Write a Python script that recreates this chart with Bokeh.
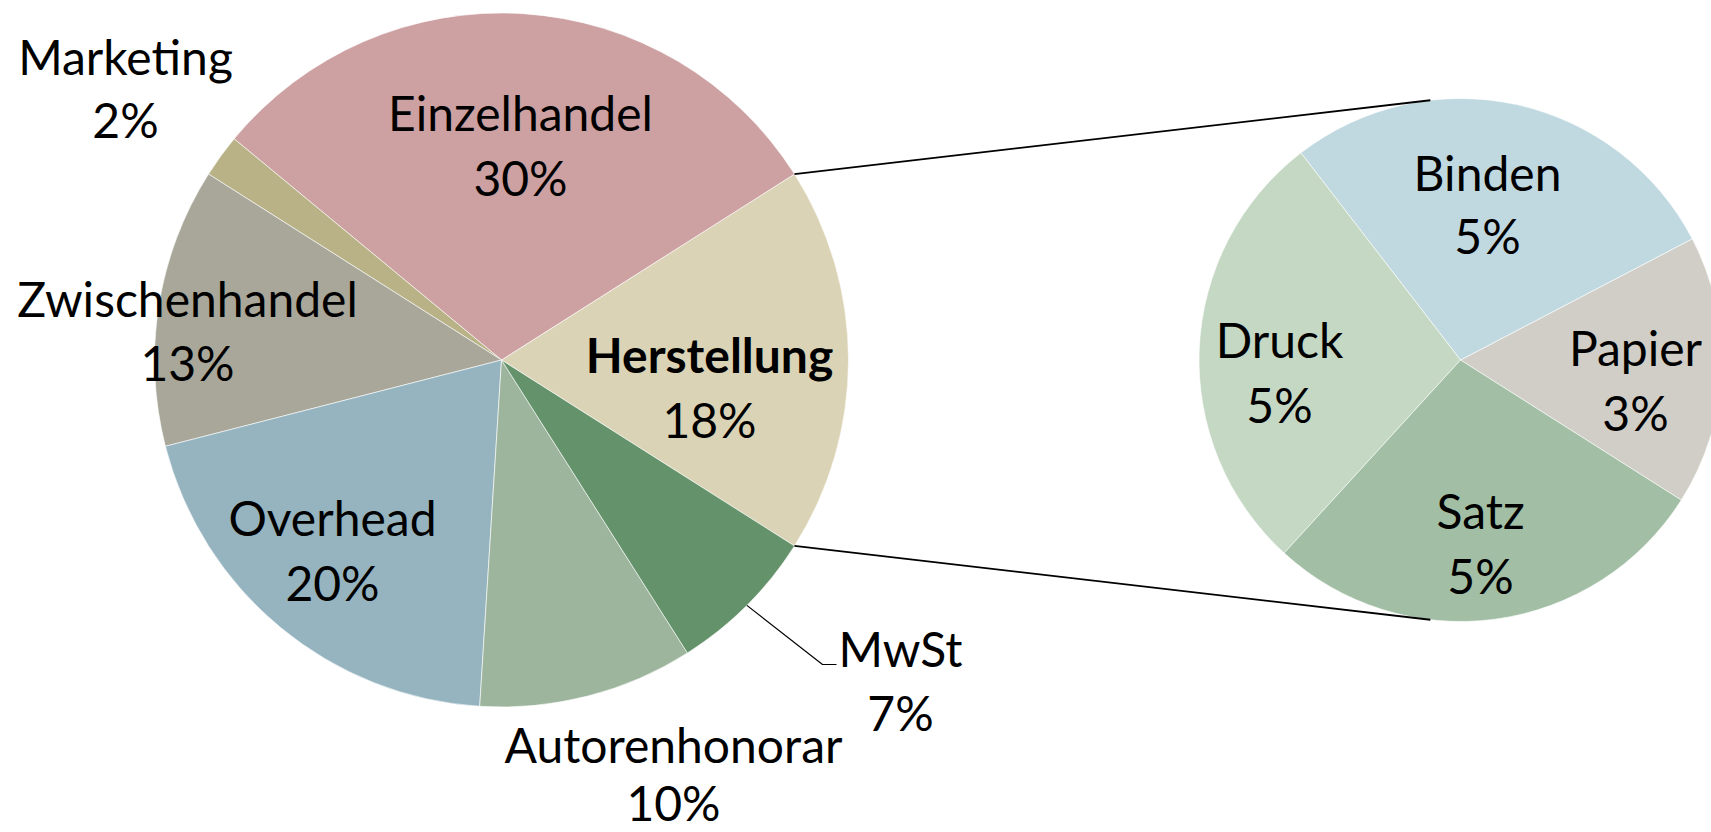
import math
from bokeh.plotting import figure
from bokeh.models import Range1d, ColumnDataSource
from bokeh.embed import file_html
from bokeh.resources import INLINE
from bokeh.core.properties import value

# ---------------- data ----------------
main_categories = ["Herstellung", "Einzelhandel", "Marketing", "Zwischenhandel",
                   "Overhead", "Autorenhonorar", "MwSt"]
main_values = [18, 30, 2, 13, 20, 10, 7]
sub_categories = ["Papier", "Binden", "Druck", "Satz"]
sub_values = [3, 5, 5, 5]

# ---------------- styles / layout ----------------
main_colors = ["#DBD3B5", "#CDA0A2", "#B8B286", "#A9A799",
               "#95B4BF", "#9DB59C", "#64926A"]
sub_colors = ["#D0CEC6", "#C0D9E0", "#C5D8C4", "#A2BFA5"]

W, H = 1711, 832
OFF = 0  # figure origin on the page
FONT = "Lato"
FSIZE = "48px"
TEXT_SHIFT = 16  # rendered baseline sits this much below the anchor

C1 = (501.0, 359.5); R1 = 347.0
C2 = (1460.0, 359.5); R2 = 261.5

# label positions (screen px): x centre, baseline of name, baseline of percent
main_label_pos = {
    "Herstellung": (709, 370, 435),
    "Einzelhandel": (520, 128, 193),
    "Marketing": (125, 72, 135),
    "Zwischenhandel": (187, 314, 378),
    "Overhead": (332, 533, 598),
    "Autorenhonorar": (673, 760, 818),
    "MwSt": (900, 664, 728),
}
sub_label_pos = {
    "Papier": (1635, 363, 428),
    "Binden": (1487, 188, 251),
    "Druck": (1279, 355, 420),
    "Satz": (1480, 526, 591),
}


def Y(sy):
    return -sy


p = figure(width=W, height=H, output_backend="svg", toolbar_location=None,
           x_range=Range1d(OFF, OFF + W), y_range=Range1d(-(OFF + H), -OFF),
           x_axis_location=None, y_axis_location=None, min_border=0,
           outline_line_color=None, background_fill_color="white",
           border_fill_color="white")
p.grid.visible = False

# ---------------- main pie ----------------
total = sum(main_values)
start0 = -math.pi * main_values[0] / total  # split slice centred on the right
starts, ends = [], []
a = start0
for v in main_values:
    starts.append(a)
    a += 2 * math.pi * v / total
    ends.append(a)
src1 = ColumnDataSource(dict(x=[C1[0]] * len(main_values), y=[Y(C1[1])] * len(main_values),
                             start=starts, end=ends, color=main_colors, cat=main_categories))
p.wedge(x="x", y="y", radius=R1, start_angle="start", end_angle="end",
        fill_color="color", line_color="white", line_width=0.6, source=src1)

# ---------------- sub pie ----------------
stot = sum(sub_values)
s_starts, s_ends = [], []
a = start0
for v in sub_values:
    s_starts.append(a)
    a += 2 * math.pi * v / stot
    s_ends.append(a)
src2 = ColumnDataSource(dict(x=[C2[0]] * len(sub_values), y=[Y(C2[1])] * len(sub_values),
                             start=s_starts, end=s_ends, color=sub_colors, cat=sub_categories))
p.wedge(x="x", y="y", radius=R2, start_angle="start", end_angle="end",
        fill_color="color", line_color="white", line_width=0.6, source=src2)

# ---------------- connector lines (tangents) ----------------
c1x, c1y = C1[0], Y(C1[1])
c2x, c2y = C2[0], Y(C2[1])
for ang, sign in ((ends[0], -1), (starts[0], +1)):
    px = c1x + R1 * math.cos(ang)
    py = c1y + R1 * math.sin(ang)
    d = math.hypot(px - c2x, py - c2y)
    phi = math.atan2(py - c2y, px - c2x)
    alpha = math.acos(R2 / d)
    t = phi + sign * alpha
    tx = c2x + R2 * math.cos(t)
    ty = c2y + R2 * math.sin(t)
    p.line([px, tx], [py, ty], line_color="black", line_width=1.8)

# ---------------- MwSt leader line ----------------
i = main_categories.index("MwSt")
mid = (starts[i] + ends[i]) / 2
lx0 = c1x + R1 * math.cos(mid)
ly0 = c1y + R1 * math.sin(mid)
p.line([lx0, 822, 836], [ly0, Y(664), Y(664)], line_color="black", line_width=1.2)

# ---------------- labels ----------------
def add_labels(cats, vals, pos, total_all):
    xs, y1, y2, names, pcts, styles = [], [], [], [], [], []
    for c, v in zip(cats, vals):
        x, b1, b2 = pos[c]
        xs.append(x); y1.append(Y(b1 - TEXT_SHIFT)); y2.append(Y(b2 - TEXT_SHIFT))
        names.append(c)
        pcts.append(f"{round(100 * v / total_all)}%")
        styles.append("bold" if c == "Herstellung" else "normal")
    s = ColumnDataSource(dict(x=xs, y1=y1, y2=y2, name=names, pct=pcts, style=styles))
    p.text(x="x", y="y1", text="name", source=s, text_font=value(FONT),
           text_font_size=FSIZE, text_font_style="style", text_align="center",
           text_baseline="alphabetic", text_color="black")
    p.text(x="x", y="y2", text="pct", source=s, text_font=value(FONT),
           text_font_size=FSIZE, text_align="center",
           text_baseline="alphabetic", text_color="black")


add_labels(main_categories, main_values, main_label_pos, total)
add_labels(sub_categories, sub_values, sub_label_pos, total)

open("out.html", "w").write(file_html(p, INLINE))
